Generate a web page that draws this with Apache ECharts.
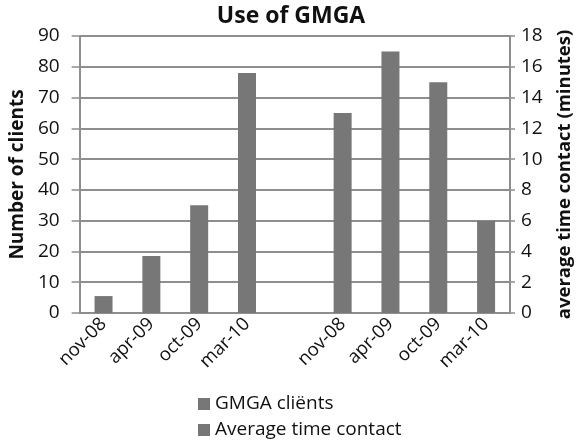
<!DOCTYPE html>
<html>
<head>
<meta charset="utf-8">
<script src="https://cdn.jsdelivr.net/npm/echarts@6/dist/echarts.min.js"></script>
<style>
  html, body { margin: 0; padding: 0; background: #fff; }
  #chart { width: 582px; height: 445px; }
</style>
</head>
<body>
<div id="chart"></div>
<script>
var categories = ['nov-08', 'apr-09', 'oct-09', 'mar-10', '', 'nov-08', 'apr-09', 'oct-09', 'mar-10']
var clients = [5.5, 18.5, 35, 78, null, null, null, null, null]
var timeContact = [null, null, null, null, null, 13, 17, 15, 6]
var leftTicks = { min: 0, max: 90, interval: 10 }
var rightTicks = { min: 0, max: 18, interval: 2 }

var font = 'Open Sans'
var gray = '#777777'
var lineGray = '#8e8e8e'

var chart = echarts.init(document.getElementById('chart'))

chart.setOption({
  backgroundColor: '#fff',
  animation: false,
  textStyle: { fontFamily: font },
  title: {
    text: 'Use of GMGA',
    left: 'center',
    top: 0,
    textStyle: { fontFamily: font, fontSize: 23, fontWeight: 'bold', color: '#111' }
  },
  legend: {
    orient: 'vertical',
    left: 198,
    top: 394,
    height: 50,
    padding: 0,
    itemWidth: 12,
    itemHeight: 12,
    itemGap: 6,
    icon: 'rect',
    textStyle: { fontFamily: font, fontSize: 19, lineHeight: 20, color: '#111' },
    data: ['GMGA cliënts', 'Average time contact']
  },
  grid: {
    left: 75,
    right: 70,
    top: 36,
    bottom: 132
  },
  xAxis: [{
    type: 'category',
    data: categories,
    axisLine: { lineStyle: { color: lineGray, width: 2 } },
    axisTick: { lineStyle: { color: lineGray, width: 1.5 }, length: 5 },
    axisLabel: { rotate: 45, fontSize: 18.5, color: '#111', margin: 8, interval: 0 }
  }],
  yAxis: [{
    type: 'value',
    min: leftTicks.min,
    max: leftTicks.max,
    interval: leftTicks.interval,
    name: 'Number of clients',
    nameLocation: 'middle',
    nameGap: 41,
    nameTextStyle: { fontFamily: font, fontSize: 19, fontWeight: 'bold', color: '#111' },
    axisLine: { show: true, lineStyle: { color: lineGray, width: 2 } },
    axisTick: { show: true, length: 8, lineStyle: { color: lineGray, width: 1.5 } },
    axisLabel: { fontSize: 19, color: '#111', margin: 20 },
    splitLine: { lineStyle: { color: lineGray, width: 2 } }
  }, {
    type: 'value',
    min: rightTicks.min,
    max: rightTicks.max,
    interval: rightTicks.interval,
    position: 'right',
    name: 'average time contact (minutes)',
    nameLocation: 'middle',
    nameGap: 45,
    nameRotate: 90,
    nameTextStyle: { fontFamily: font, fontSize: 18.5, fontWeight: 'bold', color: '#111' },
    axisLine: { show: true, lineStyle: { color: lineGray, width: 2 } },
    axisTick: { show: true, length: 5, lineStyle: { color: lineGray, width: 1.5 } },
    axisLabel: { fontSize: 19, color: '#111', margin: 11 },
    splitLine: { show: false }
  }],
  series: [{
    name: 'GMGA cliënts',
    type: 'bar',
    yAxisIndex: 0,
    barWidth: 18,
    barGap: '-100%',
    itemStyle: { color: gray },
    data: clients
  }, {
    name: 'Average time contact',
    type: 'bar',
    yAxisIndex: 1,
    barWidth: 18,
    barGap: '-100%',
    itemStyle: { color: gray },
    data: timeContact
  }]
})
</script>
</body>
</html>
